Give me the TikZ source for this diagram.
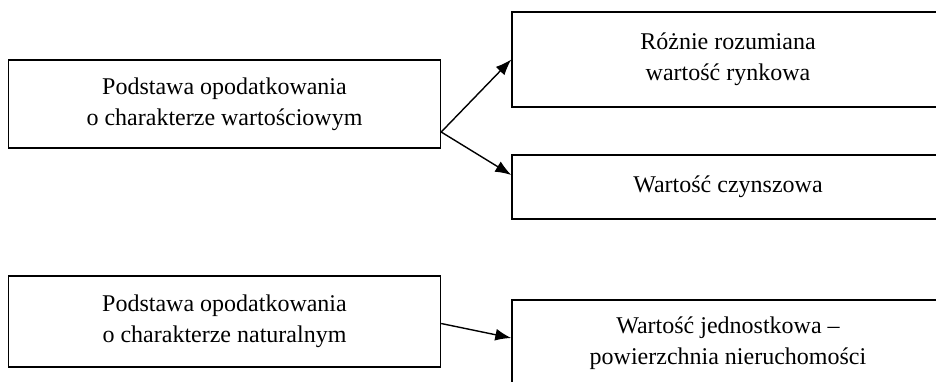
\documentclass[tikz,border=0pt]{standalone}
\usepackage{fontspec}
\setmainfont{Liberation Serif}
\usetikzlibrary{arrows.meta}

\begin{document}
\begin{tikzpicture}[
   x=0.5pt,y=-0.5pt,
   font=\fontsize{12}{15.5}\selectfont,
   box/.style={draw,line width=0.7pt,align=center,minimum width=216pt,inner sep=0pt},
   to/.style={-{Latex[length=8pt,width=6pt]},line width=0.7pt}]
\useasboundingbox (0,0) rectangle (936,381);
\node[box,minimum height=44pt] (wart) at (224.5,104) {Podstawa opodatkowania\\o charakterze wartościowym};
\node[box,minimum height=47.5pt] (rynk) at (728,59.5) {Różnie rozumiana\\wartość rynkowa};
\node[box,minimum height=32pt] (czyn) at (728,187) {Wartość czynszowa};
\node[box,minimum height=45.5pt] (nat) at (224.5,321.5) {Podstawa opodatkowania\\o charakterze naturalnym};
\node[box,minimum height=43pt] (jedn) at (728,343) {Wartość jednostkowa –\\powierzchnia nieruchomości};
\draw[to] ([yshift=-14pt]wart.east) -- (rynk.west);
\draw[to] ([yshift=-14pt]wart.east) -- ([yshift=6pt]czyn.west);
\draw[to] ([yshift=-1pt]nat.east) -- ([yshift=2.5pt]jedn.west);
\end{tikzpicture}
\end{document}
